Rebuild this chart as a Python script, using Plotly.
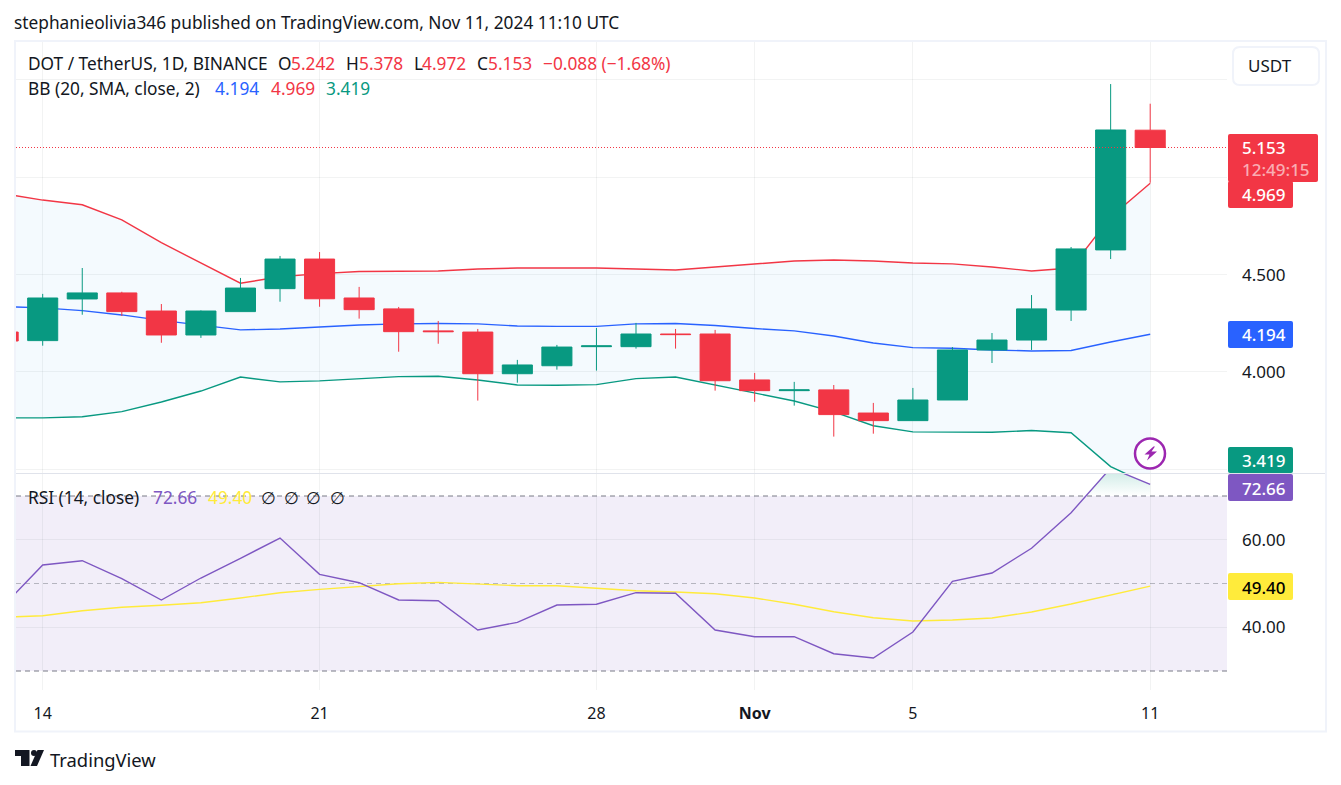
"""DOT / TetherUS daily chart with Bollinger Bands and RSI panes."""

import plotly.graph_objects as go

W, H = 1341, 785

dates = [
    "2024-10-13", "2024-10-14", "2024-10-15", "2024-10-16", "2024-10-17", "2024-10-18",
    "2024-10-19", "2024-10-20", "2024-10-21", "2024-10-22", "2024-10-23", "2024-10-24",
    "2024-10-25", "2024-10-26", "2024-10-27", "2024-10-28", "2024-10-29", "2024-10-30",
    "2024-10-31", "2024-11-01", "2024-11-02", "2024-11-03", "2024-11-04", "2024-11-05",
    "2024-11-06", "2024-11-07", "2024-11-08", "2024-11-09", "2024-11-10", "2024-11-11",
]
opens = [4.205, 4.161, 4.375, 4.406, 4.313, 4.190, 4.310, 4.428, 4.580, 4.380, 4.324, 4.211,
         4.205, 3.991, 4.032, 4.130, 4.130, 4.195, 4.195, 3.959, 3.904, 3.908, 3.789, 3.750,
         3.856, 4.113, 4.164, 4.318, 4.627, 5.242]
highs = [4.210, 4.401, 4.534, 4.412, 4.349, 4.316, 4.483, 4.596, 4.616, 4.437, 4.334, 4.262,
         4.221, 4.062, 4.139, 4.226, 4.252, 4.221, 4.216, 3.995, 3.949, 3.933, 3.841, 3.918,
         4.128, 4.200, 4.395, 4.642, 5.479, 5.378]
lows = [4.150, 4.135, 4.294, 4.288, 4.150, 4.175, 4.310, 4.361, 4.335, 4.274, 4.104, 4.145,
        3.853, 3.945, 4.012, 4.007, 4.120, 4.120, 3.904, 3.847, 3.827, 3.668, 3.683, 3.750,
        3.856, 4.046, 4.113, 4.262, 4.580, 4.972]
closes = [4.159, 4.380, 4.406, 4.310, 4.190, 4.313, 4.431, 4.580, 4.376, 4.320, 4.207, 4.207,
          3.991, 4.036, 4.128, 4.134, 4.195, 4.192, 3.955, 3.904, 3.908, 3.781, 3.750, 3.856,
          4.113, 4.164, 4.324, 4.632, 5.243, 5.153]

bb_basis = [4.336, 4.329, 4.315, 4.293, 4.265, 4.239, 4.216, 4.221, 4.231, 4.241, 4.247, 4.249,
            4.247, 4.236, 4.234, 4.234, 4.247, 4.249, 4.239, 4.223, 4.211, 4.185, 4.149, 4.125,
            4.122, 4.113, 4.108, 4.110, 4.154, 4.194]
bb_upper = [4.916, 4.883, 4.859, 4.781, 4.664, 4.561, 4.456, 4.489, 4.505, 4.516, 4.519, 4.519,
            4.529, 4.534, 4.534, 4.534, 4.529, 4.524, 4.539, 4.555, 4.570, 4.575, 4.570, 4.560,
            4.555, 4.539, 4.519, 4.534, 4.796, 4.969]
bb_lower = [3.764, 3.764, 3.770, 3.796, 3.846, 3.902, 3.974, 3.949, 3.954, 3.966, 3.976, 3.978,
            3.959, 3.933, 3.932, 3.935, 3.966, 3.974, 3.933, 3.892, 3.851, 3.795, 3.724, 3.692,
            3.690, 3.690, 3.699, 3.688, 3.514, 3.419]

rsi = [44.86, 54.23, 55.21, 51.10, 46.23, 51.26, 55.76, 60.40, 52.10, 50.18, 46.23, 46.07,
       39.37, 41.13, 45.09, 45.25, 47.90, 47.76, 39.37, 37.84, 37.84, 33.95, 32.97, 38.91,
       50.50, 52.40, 58.05, 66.18, 76.40, 72.66]
rsi_ma = [42.30, 42.64, 43.78, 44.56, 45.02, 45.61, 46.69, 47.90, 48.67, 49.36, 49.95, 50.27,
          49.89, 49.50, 49.50, 48.90, 48.35, 48.06, 47.67, 46.69, 45.25, 43.55, 42.18, 41.43,
          41.66, 42.11, 43.49, 45.31, 47.37, 49.40]

price_ticks = [3.5, 4.0, 4.5, 5.0, 5.5]
price_labels = ["", "4.000", "4.500", "", ""]
rsi_ticks = [40, 60]
rsi_labels = ["40.00", "60.00"]
time_ticks = ["2024-10-14", "2024-10-21", "2024-10-28", "2024-11-01", "2024-11-05", "2024-11-11"]
time_labels = ["14", "21", "28", "<b>Nov</b>", "5", "11"]
last_close = 5.153

FONT = "Noto Sans"
INK = "#131722"
GREEN = "#089981"
RED = "#F23645"
BLUE = "#2962FF"
PURPLE = "#7E57C2"
YELLOW = "#FFEB3B"
GRID = "rgba(42,46,57,0.06)"
FRAME = "#F0F3FA"


def px(x):
    return x / W


def py(y):
    return 1 - y / H


def round_box(x0, y0, x1, y1, r=2):
    # rounded rectangle path in paper coordinates, given in pixels
    pts = [
        f"M{px(x0 + r)},{py(y0)}", f"L{px(x1 - r)},{py(y0)}",
        f"Q{px(x1)},{py(y0)} {px(x1)},{py(y0 + r)}", f"L{px(x1)},{py(y1 - r)}",
        f"Q{px(x1)},{py(y1)} {px(x1 - r)},{py(y1)}", f"L{px(x0 + r)},{py(y1)}",
        f"Q{px(x0)},{py(y1)} {px(x0)},{py(y1 - r)}", f"L{px(x0)},{py(y0 + r)}",
        f"Q{px(x0)},{py(y0)} {px(x0 + r)},{py(y0)}", "Z",
    ]
    return "".join(pts)


def poly(points):
    return "M" + "L".join(f"{px(x)},{py(y)}" for x, y in points) + "Z"


def paper_shape(path, fill="rgba(0,0,0,0)", line="rgba(0,0,0,0)", width=0):
    return dict(type="path", xref="paper", yref="paper", path=path, fillcolor=fill,
                line=dict(color=line, width=width), layer="above")


def label(text, x, y, color=INK, size=17.3, anchor="left", weight="normal"):
    return dict(text=text, x=px(x), y=py(y), xref="paper", yref="paper", showarrow=False,
                xanchor=anchor, yanchor="middle",
                font=dict(family=FONT, size=size, color=color, weight=weight),
                align="left", borderpad=0)


fig = go.Figure()

# Bollinger bands go behind the candles
line_common = dict(mode="lines", x=dates, xaxis="x", yaxis="y", zorder=-1, hoverinfo="skip")
fig.add_trace(go.Scatter(y=bb_upper, line=dict(color=RED, width=1.4), **line_common))
fig.add_trace(go.Scatter(y=bb_lower, line=dict(color=GREEN, width=1.4), fill="tonexty",
                         fillcolor="rgba(33,150,243,0.05)", **line_common))
fig.add_trace(go.Scatter(y=bb_basis, line=dict(color=BLUE, width=1.4), **line_common))

fig.add_trace(go.Candlestick(
    x=dates, open=opens, high=highs, low=lows, close=closes, xaxis="x", yaxis="y",
    whiskerwidth=0,
    increasing=dict(line=dict(color=GREEN, width=1), fillcolor=GREEN),
    decreasing=dict(line=dict(color=RED, width=1), fillcolor=RED),
))

# RSI overbought area: from where the line crosses 70 up to the last bar
cross_idx = next(i for i, v in enumerate(rsi) if v > 70)
t0 = (70 - rsi[cross_idx - 1]) / (rsi[cross_idx] - rsi[cross_idx - 1])
cross_x = f"{dates[cross_idx - 1]} {int(t0 * 24):02d}:{int(t0 * 1440) % 60:02d}"
fig.add_trace(go.Scatter(
    x=[cross_x] + dates[cross_idx:] + dates[-1:],
    y=[70] + rsi[cross_idx:] + [70],
    mode="none", fill="toself", xaxis="x2", yaxis="y2", hoverinfo="skip",
    fillgradient=dict(type="vertical", start=70, stop=75,
                      colorscale=[[0, "rgba(8,153,129,0)"], [1, "rgba(8,153,129,0.17)"]]),
))
fig.add_trace(go.Scatter(x=dates, y=rsi_ma, mode="lines", line=dict(color=YELLOW, width=1.4),
                         xaxis="x2", yaxis="y2", hoverinfo="skip"))
fig.add_trace(go.Scatter(x=dates, y=rsi, mode="lines", line=dict(color=PURPLE, width=1.4),
                         xaxis="x2", yaxis="y2", hoverinfo="skip"))

shapes = [
    # RSI band and its level lines
    dict(type="rect", xref="x2 domain", yref="y2", x0=0, x1=1, y0=30, y1=70,
         fillcolor="rgba(126,87,194,0.1)", line_width=0, layer="below"),
    dict(type="line", xref="x2 domain", yref="y2", x0=0, x1=1, y0=70, y1=70,
         line=dict(color="#787B86", width=1, dash="5px,4px"), layer="below"),
    dict(type="line", xref="x2 domain", yref="y2", x0=0, x1=1, y0=30, y1=30,
         line=dict(color="#787B86", width=1, dash="5px,4px"), layer="below"),
    dict(type="line", xref="x2 domain", yref="y2", x0=0, x1=1, y0=50, y1=50,
         line=dict(color="rgba(120,123,134,0.5)", width=1, dash="5px,4px"), layer="below"),
    # last price line
    dict(type="line", xref="x domain", yref="y", x0=0, x1=1, y0=last_close, y1=last_close,
         line=dict(color=RED, width=1, dash="1px,2px"), layer="above"),
    # frame and pane separator
    dict(type="rect", xref="paper", yref="paper", x0=px(15), x1=px(1326), y0=py(731.5), y1=py(41),
         line=dict(color=FRAME, width=2), layer="above"),
    dict(type="line", xref="paper", yref="paper", x0=px(16), x1=px(1325), y0=py(473.5), y1=py(473.5),
         line=dict(color="#E0E3EB", width=1), layer="above"),
    # USDT button
    paper_shape(round_box(1233, 47, 1319, 85, 7), line=FRAME, width=2),
    # price scale tags
    paper_shape(round_box(1228, 134, 1318, 182), fill=RED),
    paper_shape(round_box(1228, 181, 1293, 208), fill=RED),
    paper_shape(round_box(1228, 321, 1293, 348), fill=BLUE),
    paper_shape(round_box(1228, 447, 1293, 473), fill=GREEN),
    paper_shape(round_box(1228, 474, 1293, 501), fill=PURPLE),
    paper_shape(round_box(1228, 573, 1293, 600), fill=YELLOW),
    # lightning badge
    dict(type="circle", xref="paper", yref="paper", x0=px(1135), x1=px(1165),
         y0=py(468.5), y1=py(438.5), fillcolor="white", line=dict(color="#9C27B0", width=2.5),
         layer="above"),
    paper_shape(poly([(1153.5, 446.5), (1144.5, 454.5), (1149.5, 454.5), (1147, 460.5),
                      (1157, 451.5), (1151.5, 451.5), (1155, 446.5)]), fill="#9C27B0"),
    # TradingView logo
    paper_shape(poly([(15, 750), (29.5, 750), (29.5, 766), (21, 766), (21, 756), (15, 756)]), fill=INK),
    dict(type="circle", xref="paper", yref="paper", x0=px(31), x1=px(37), y0=py(756), y1=py(750),
         fillcolor=INK, line_width=0, layer="above"),
    paper_shape(poly([(44, 750), (37, 766), (30.5, 766), (37.5, 750)]), fill=INK),
]

annotations = [
    label("stephanieolivia346 published on TradingView.com, Nov 11, 2024 11:10 UTC", 13, 23),
    label("DOT / TetherUS, 1D, BINANCE", 27, 64),
    label("O", 277, 64), label("5.242", 290, 64, RED),
    label("H", 345, 64), label("5.378", 358, 64, RED),
    label("L", 413, 64), label("4.972", 421, 64, RED),
    label("C", 476, 64), label("5.153", 487, 64, RED),
    label("−0.088 (−1.68%)", 542, 64, RED),
    label("BB (20, SMA, close, 2)", 27, 89),
    label("4.194", 214, 89, BLUE), label("4.969", 270, 89, RED), label("3.419", 325, 89, GREEN),
    label("RSI (14, close)", 27, 497),
    label("72.66", 152, 497, PURPLE), label("49.40", 207, 497, YELLOW),
    label("∅", 268, 497, anchor="center"), label("∅", 291, 497, anchor="center"),
    label("∅", 313, 497, anchor="center"), label("∅", 337, 497, anchor="center"),
    label("USDT", 1247, 66, size=17),
    label("5.153", 1241, 148, "white", 17, weight=500),
    label("12:49:15", 1241, 170, "rgba(255,255,255,0.6)", 17, weight=500),
    label("4.969", 1241, 195, "white", 17, weight=500),
    label("4.194", 1241, 334, "white", 17, weight=500),
    label("3.419", 1241, 460, "white", 17, weight=500),
    label("72.66", 1241, 488, "white", 17, weight=500),
    label("49.40", 1241, 587, "#000000", 17, weight=500),
    label("TradingView", 49, 759, INK, 18.4),
]

x_range = ["2024-10-13 07:48", "2024-11-12 22:36"]
x_domain = [px(16), px(1227)]
tick_font = dict(family=FONT, size=17, color=INK)

fig.update_layout(
    width=W, height=H, autosize=False,
    margin=dict(l=0, r=0, t=0, b=0),
    paper_bgcolor="white", plot_bgcolor="rgba(0,0,0,0)",
    showlegend=False, hovermode=False, dragmode=False,
    font=dict(family=FONT, color=INK),
    boxgap=0.24, boxgroupgap=0,
    xaxis=dict(domain=x_domain, range=x_range, type="date", anchor="y", matches="x2",
               rangeslider=dict(visible=False), tickvals=time_ticks, showticklabels=False,
               gridcolor=GRID, gridwidth=1, zeroline=False, ticks=""),
    yaxis=dict(domain=[py(473), py(42)], range=[3.481, 5.695], side="right", anchor="x",
               tickvals=price_ticks, ticktext=price_labels, tickfont=tick_font,
               ticklabelstandoff=14, gridcolor=GRID, gridwidth=1, zeroline=False, ticks=""),
    xaxis2=dict(domain=x_domain, range=x_range, type="date", anchor="y2",
                rangeslider=dict(visible=False), tickvals=time_ticks, ticktext=time_labels,
                tickfont=dict(family=FONT, size=16, color=INK), tickangle=0, ticklabelstandoff=12,
                gridcolor=GRID, gridwidth=1, zeroline=False, ticks=""),
    yaxis2=dict(domain=[py(690), py(474)], range=[25.66, 75.03], side="right", anchor="x2",
                tickvals=rsi_ticks, ticktext=rsi_labels, tickfont=tick_font,
                ticklabelstandoff=14, gridcolor=GRID, gridwidth=1, zeroline=False, ticks=""),
    shapes=shapes,
    annotations=annotations,
)

fig.write_html("out.html", config=dict(displayModeBar=False),
               post_script="document.body.style.margin='0';")
